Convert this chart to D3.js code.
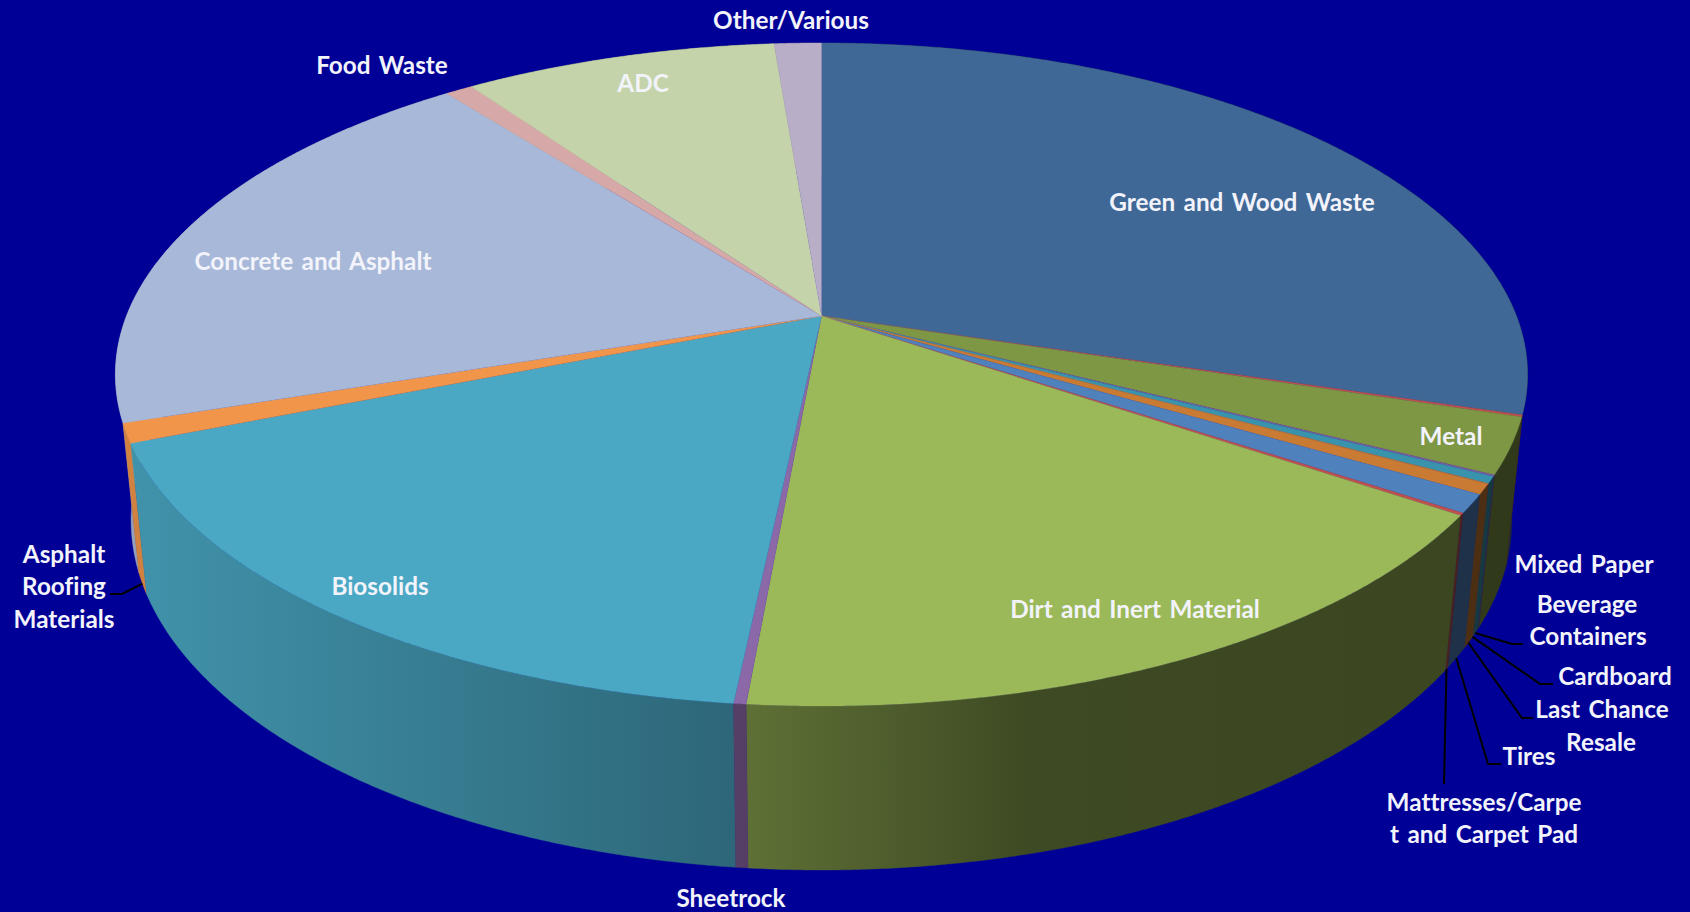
<!DOCTYPE html>
<html>
<head>
<meta charset="utf-8">
<title>Waste composition</title>
<script src="https://cdn.jsdelivr.net/npm/d3@7/dist/d3.min.js"></script>
<style>
  html, body { margin: 0; padding: 0; background: #000096; }
  svg { display: block; }
  text { font-family: Lato, "Open Sans", sans-serif; font-weight: 700; font-size: 24.3px; word-spacing: 2.5px; font-variant-ligatures: none; fill: #f2f3fb; text-anchor: middle; dominant-baseline: central; }
</style>
</head>
<body>
<svg id="chart" width="1690" height="912"></svg>
<script>
// Share of disposed material, percent, clockwise from twelve o'clock.
const categories = ["Green and Wood Waste", "", "Metal", "Mixed Paper", "Beverage Containers", "Cardboard",
  "Last Chance Resale", "Tires", "Mattresses/Carpet and Carpet Pad", "Dirt and Inert Material", "Sheetrock",
  "Biosolids", "Asphalt Roofing Materials", "Concrete and Asphalt", "Food Waste", "ADC", "Other/Various"];
const values = [29.72, 0.1, 2.7, 0.08, 0.33, 0.02, 0.5, 0.89, 0.12, 16.97, 0.24, 17.3, 0.94, 19.57, 0.75, 8.5, 1.28];
const colors = ["#3f6896", "#c0504d", "#7e9744", "#7d5f9f", "#3a93ac", "#c97a33", "#c97a33", "#4f81bd", "#c0504d",
  "#9bb958", "#8b68a8", "#4aa8c4", "#f0954a", "#a8b8d8", "#d6a8a8", "#c4d3aa", "#b8aec8"];

// Label text, broken into the lines it is set on, with each line's centre.
const labelLines = [
  ["Green and Wood Waste", 1242, 201], ["Metal", 1451, 435], ["Mixed Paper", 1584, 563],
  ["Beverage", 1587, 603], ["Containers", 1588, 635], ["Cardboard", 1615, 675],
  ["Last Chance", 1602, 708], ["Resale", 1601, 741], ["Tires", 1529, 755],
  ["Mattresses/Carpe", 1484, 801], ["t and Carpet Pad", 1484, 833], ["Sheetrock", 731, 897],
  ["Biosolids", 380, 585], ["Dirt and Inert Material", 1135, 608], ["Concrete and Asphalt", 313, 260],
  ["Food Waste", 382, 64], ["ADC", 643, 82], ["Other/Various", 791, 19],
  ["Asphalt", 64, 553], ["Roofing", 64, 585], ["Materials", 64, 618]
];

// Leader lines: category index, then the elbow and the end beside the label.
const leaders = [
  [4, 1512, 644, 1523, 644], [5, 1540, 684, 1553, 684], [6, 1522, 718, 1533, 718],
  [7, 1488, 764, 1501, 764], [8, 1444, 784, 1444, 784], [12, 122, 594, 110, 594]
];

// Perspective view of the disc: a tilted plane, with the lower rim further from the eye.
const view = { cx: 821.5, cy: 316, m: 695, k: 321.2, a: 0.1765, depth: 147.2, recede: 0.022 };
function project(angle, radius, level) {
  const X = Math.sin(angle) * radius, Y = -Math.cos(angle) * radius;
  const w = 1 - view.a * Y + view.recede * level;
  return [view.cx + view.m * X / w, view.cy + (view.k * Y + view.depth * level) / w];
}

const svg = d3.select("#chart");
const defs = svg.append("defs");
const arcs = d3.pie().sort(null).value(d => d)(values);
const line = d3.line();
const rimAngles = d => {
  const n = Math.max(2, Math.ceil((d.endAngle - d.startAngle) / 0.005));
  return d3.range(n + 1).map(i => d.startAngle + (d.endAngle - d.startAngle) * i / n);
};

// Side walls fall off in brightness from left to right across the drawing.
const shadeStops = [115, 740, 1030, 1530];
const shade = d3.scaleLinear().domain(shadeStops).range([0.88, 0.61, 0.4, 0.38]);
const wallColor = (c, x) => {
  const r = d3.rgb(c), s = shade(x);
  return d3.rgb(r.r * s, r.g * s, r.b * s).formatHex();
};
colors.forEach((c, i) => {
  const g = defs.append("linearGradient").attr("id", "wall" + i)
    .attr("gradientUnits", "userSpaceOnUse")
    .attr("x1", 115).attr("x2", 1530).attr("y1", 0).attr("y2", 0);
  shadeStops.forEach(x => g.append("stop")
    .attr("offset", (x - 115) / (1530 - 115))
    .attr("stop-color", wallColor(c, x)));
});

// Walls first, from back to front, then the top face over them.
const nearness = d => -Math.cos((d.startAngle + d.endAngle) / 2);
const order = d3.range(arcs.length).sort((p, q) => d3.ascending(nearness(arcs[p]), nearness(arcs[q])));
svg.append("g").selectAll("path").data(order.map(i => arcs[i])).join("path")
  .attr("d", d => {
    const as = rimAngles(d);
    const pts = as.map(a => project(a, 1, 0)).concat(as.slice().reverse().map(a => project(a, 1, 1)));
    return line(pts) + "Z";
  })
  .attr("fill", d => `url(#wall${d.index})`)
  .attr("stroke", d => `url(#wall${d.index})`)
  .attr("stroke-width", 0.4);

svg.append("g").selectAll("path").data(arcs).join("path")
  .attr("d", d => line([[view.cx, view.cy]].concat(rimAngles(d).map(a => project(a, 1, 0)))) + "Z")
  .attr("fill", d => colors[d.index])
  .attr("stroke", d => colors[d.index])
  .attr("stroke-width", 0.3);

// Leaders start on the lower rim at the middle of their slice.
svg.append("g").selectAll("path").data(leaders).join("path")
  .attr("d", d => {
    const s = arcs[d[0]];
    return line([project((s.startAngle + s.endAngle) / 2, 1, 1), [d[1], d[2]], [d[3], d[4]]]);
  })
  .attr("fill", "none").attr("stroke", "#000").attr("stroke-width", 2);

svg.append("g").selectAll("text").data(labelLines).join("text")
  .attr("x", d => d[1]).attr("y", d => d[2]).text(d => d[0]);
</script>
</body>
</html>
